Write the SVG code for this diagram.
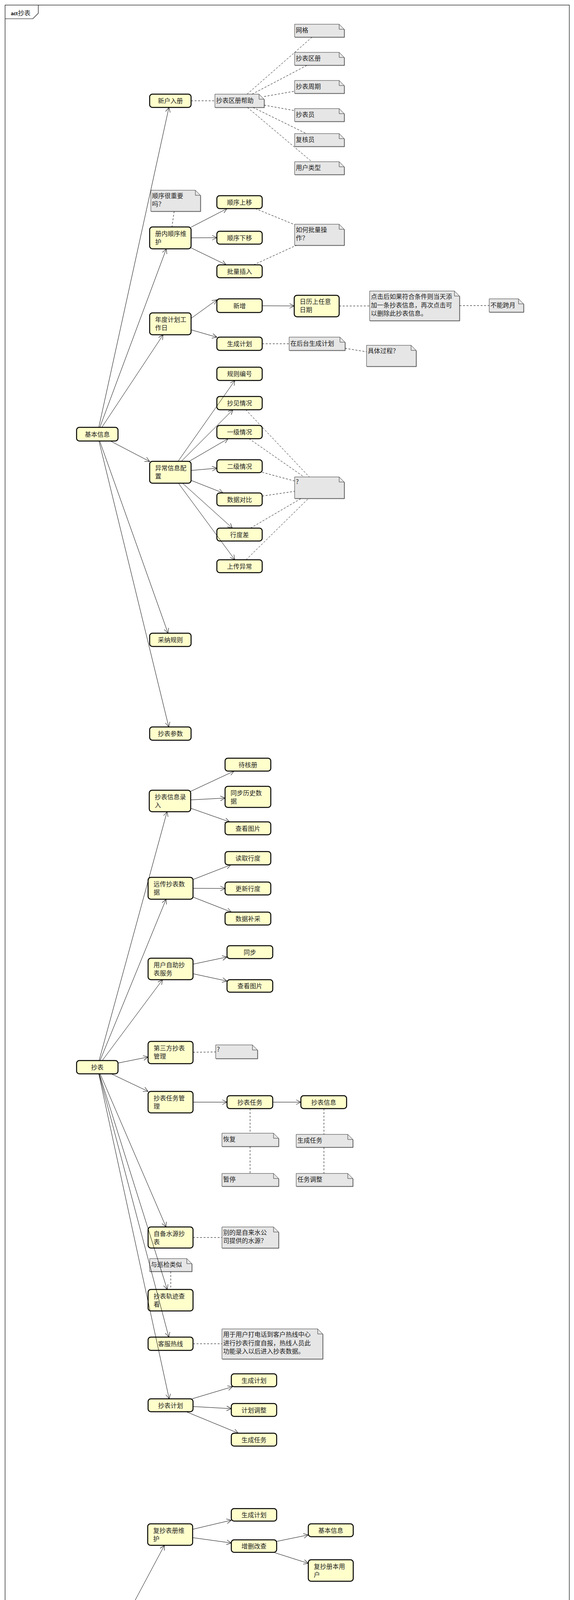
<svg xmlns="http://www.w3.org/2000/svg" width="1469" height="4809" viewBox="0 0 1469 4809">
<style>
.n rect{fill:#ffffcc;stroke:#000;stroke-width:2.5}
.t{font-family:"Noto Sans CJK SC","Noto Sans",sans-serif;font-size:16px;fill:#222}
.c{text-anchor:middle}
.nt path{fill:#e6e6e6;stroke:#333;stroke-width:1}
.nt path.b{filter:url(#sh)}
.nt path.f{fill:none}
.a{fill:none;stroke:#000;stroke-width:1;marker-end:url(#arr)}
.d{fill:none;stroke:#000;stroke-width:1;stroke-dasharray:5 4}
</style>
<defs>
<marker id="arr" markerUnits="userSpaceOnUse" markerWidth="16" markerHeight="14" viewBox="-14 -7 16 14" refX="0" refY="0" orient="auto">
<path d="M-12,-6 L0,0 L-12,6" fill="none" stroke="#000" stroke-width="1"/>
</marker>
<filter id="sh" x="-5%" y="-5%" width="115%" height="130%">
<feDropShadow dx="1" dy="1" stdDeviation="0.3" flood-color="#666" flood-opacity="0.8"/>
</filter>
</defs>
<rect x="0" y="0" width="1469" height="4809" fill="#fff"/>
<g id="frame">
<rect x="13" y="13" width="1444" height="4783" fill="none" stroke="#000" stroke-width="1.2"/>
<path d="M13,48 H84 L98,34 V13" fill="none" stroke="#000" stroke-width="1.2"/>
<text x="28" y="39" font-family="Liberation Sans,Arial,sans-serif" font-size="12" font-weight="bold" fill="#000">act</text>
<text x="46" y="39" class="t" font-size="16">抄表</text>
</g>

<!-- Section 1 nodes -->
<g id="n_jbxx" class="n"><rect x="196" y="1094" width="106" height="35" rx="7"/><text class="t c" x="249" y="1117.5">基本信息</text></g>
<g id="n_xhrc" class="n"><rect x="383" y="241" width="106" height="34" rx="7"/><text class="t c" x="436" y="264">新户入册</text></g>
<g id="n_cnsx" class="n"><rect x="383" y="581" width="106" height="56" rx="7"/><text class="t" x="397" y="604">册内顺序维</text><text class="t" x="397" y="625">护</text></g>
<g id="n_ndjh" class="n"><rect x="383" y="801" width="106" height="56" rx="7"/><text class="t" x="397" y="824">年度计划工</text><text class="t" x="397" y="845">作日</text></g>
<g id="n_ycxx" class="n"><rect x="383" y="1181" width="106" height="56" rx="7"/><text class="t" x="397" y="1204">异常信息配</text><text class="t" x="397" y="1225">置</text></g>
<g id="n_cngz" class="n"><rect x="383" y="1621" width="106" height="34" rx="7"/><text class="t c" x="436" y="1644">采纳规则</text></g>
<g id="n_cbcs" class="n"><rect x="383" y="1861" width="106" height="34" rx="7"/><text class="t c" x="436" y="1884">抄表参数</text></g>
<g id="n_sxsy" class="n"><rect x="555" y="501" width="116" height="33" rx="7"/><text class="t c" x="613" y="523.5">顺序上移</text></g>
<g id="n_sxxy" class="n"><rect x="555" y="592" width="116" height="33" rx="7"/><text class="t c" x="613" y="614.5">顺序下移</text></g>
<g id="n_plcr" class="n"><rect x="555" y="678" width="116" height="33" rx="7"/><text class="t c" x="613" y="700.5">批量插入</text></g>
<g id="n_xz" class="n"><rect x="555" y="765" width="116" height="35" rx="7"/><text class="t c" x="613" y="788.5">新增</text></g>
<g id="n_rl" class="n"><rect x="753" y="756" width="115" height="55" rx="7"/><text class="t" x="767" y="778">日历上任意</text><text class="t" x="767" y="799">日期</text></g>
<g id="n_scjh1" class="n"><rect x="555" y="863" width="116" height="34" rx="7"/><text class="t c" x="613" y="886">生成计划</text></g>
<g id="n_gzbh" class="n"><rect x="555" y="940" width="116" height="34" rx="7"/><text class="t c" x="613" y="963">规则编号</text></g>
<g id="n_cjqk" class="n"><rect x="555" y="1015" width="116" height="34" rx="7"/><text class="t c" x="613" y="1038">抄见情况</text></g>
<g id="n_yjqk" class="n"><rect x="555" y="1089" width="116" height="34" rx="7"/><text class="t c" x="613" y="1112">一级情况</text></g>
<g id="n_ejqk" class="n"><rect x="555" y="1177" width="116" height="33" rx="7"/><text class="t c" x="613" y="1199.5">二级情况</text></g>
<g id="n_sjdb" class="n"><rect x="555" y="1262" width="116" height="33" rx="7"/><text class="t c" x="613" y="1284.5">数据对比</text></g>
<g id="n_xdc" class="n"><rect x="555" y="1352" width="116" height="33" rx="7"/><text class="t c" x="613" y="1374.5">行度差</text></g>
<g id="n_scyc" class="n"><rect x="555" y="1433" width="116" height="33" rx="7"/><text class="t c" x="613" y="1455.5">上传异常</text></g>

<!-- Section 1 notes -->
<g id="t_bz" class="nt"><path class="b" d="M550,241 H663 L676,254 V275 H550 Z"/><path class="f" d="M663,241 V254 H676"/><text class="t" x="553" y="263">抄表区册帮助</text></g>
<g id="t_wg" class="nt"><path class="b" d="M754,62 H868 L881,75 V95 H754 Z"/><path class="f" d="M868,62 V75 H881"/><text class="t" x="757" y="83">网格</text></g>
<g id="t_cbqc" class="nt"><path class="b" d="M754,134 H868 L881,147 V167 H754 Z"/><path class="f" d="M868,134 V147 H881"/><text class="t" x="757" y="155">抄表区册</text></g>
<g id="t_cbzq" class="nt"><path class="b" d="M754,206 H868 L881,219 V239 H754 Z"/><path class="f" d="M868,206 V219 H881"/><text class="t" x="757" y="227">抄表周期</text></g>
<g id="t_cby" class="nt"><path class="b" d="M754,278 H868 L881,291 V311 H754 Z"/><path class="f" d="M868,278 V291 H881"/><text class="t" x="757" y="299">抄表员</text></g>
<g id="t_fhy" class="nt"><path class="b" d="M754,342 H868 L881,355 V375 H754 Z"/><path class="f" d="M868,342 V355 H881"/><text class="t" x="757" y="363">复核员</text></g>
<g id="t_yhlx" class="nt"><path class="b" d="M754,414 H868 L881,427 V447 H754 Z"/><path class="f" d="M868,414 V427 H881"/><text class="t" x="757" y="435">用户类型</text></g>
<g id="t_sxzy" class="nt"><path class="b" d="M386,487 H500 L513,500 V541 H386 Z"/><path class="f" d="M500,487 V500 H513"/><text class="t" x="389" y="507">顺序很重要</text><text class="t" x="389" y="528">吗？</text></g>
<g id="t_plcz" class="nt"><path class="b" d="M754,574 H868 L881,587 V628 H754 Z"/><path class="f" d="M868,574 V587 H881"/><text class="t" x="757" y="594">如何批量操</text><text class="t" x="757" y="615">作？</text></g>
<g id="t_djh" class="nt"><path class="b" d="M946,745 H1163 L1176,758 V821 H946 Z"/><path class="f" d="M1163,745 V758 H1176"/><text class="t" x="949" y="765">点击后如果符合条件则当天添</text><text class="t" x="949" y="786.5">加一条抄表信息，再次点击可</text><text class="t" x="949" y="808">以删除此抄表信息。</text></g>
<g id="t_bnky" class="nt"><path class="b" d="M1252,765 H1327 L1340,778 V799 H1252 Z"/><path class="f" d="M1327,765 V778 H1340"/><text class="t" x="1255" y="787">不能跨月</text></g>
<g id="t_zht" class="nt"><path class="b" d="M740,863 H870 L883,876 V897 H740 Z"/><path class="f" d="M870,863 V876 H883"/><text class="t" x="743" y="885">在后台生成计划</text></g>
<g id="t_jtgc" class="nt"><path class="b" d="M938,884 H1052 L1065,897 V938 H938 Z"/><path class="f" d="M1052,884 V897 H1065"/><text class="t" x="941" y="904">具体过程？</text></g>
<g id="t_q1" class="nt"><path class="b" d="M754,1221 H868 L881,1234 V1276 H754 Z"/><path class="f" d="M868,1221 V1234 H881"/><text class="t" x="757" y="1239" font-size="13">?</text></g>

<!-- Section 2 nodes -->
<g id="n_cb" class="n"><rect x="196" y="2715" width="106" height="34" rx="7"/><text class="t c" x="249" y="2738">抄表</text></g>
<g id="n_cbxxlr" class="n"><rect x="382" y="2023" width="106" height="55" rx="7"/><text class="t" x="396" y="2046">抄表信息录</text><text class="t" x="396" y="2067">入</text></g>
<g id="n_yccb" class="n"><rect x="379" y="2246" width="115" height="56" rx="7"/><text class="t" x="393" y="2269">远传抄表数</text><text class="t" x="393" y="2290">据</text></g>
<g id="n_yhzz" class="n"><rect x="379" y="2453" width="115" height="55" rx="7"/><text class="t" x="393" y="2476">用户自助抄</text><text class="t" x="393" y="2497">表服务</text></g>
<g id="n_dsf" class="n"><rect x="379" y="2666" width="115" height="57" rx="7"/><text class="t" x="393" y="2689">第三方抄表</text><text class="t" x="393" y="2710">管理</text></g>
<g id="n_cbrwgl" class="n"><rect x="379" y="2794" width="115" height="55" rx="7"/><text class="t" x="393" y="2817">抄表任务管</text><text class="t" x="393" y="2838">理</text></g>
<g id="n_zbsy" class="n"><rect x="379" y="3141" width="115" height="54" rx="7"/><text class="t" x="393" y="3164">自备水源抄</text><text class="t" x="393" y="3185">表</text></g>
<g id="n_cbgj" class="n"><rect x="379" y="3301" width="115" height="55" rx="7"/><text class="t" x="393" y="3324">抄表轨迹查</text><text class="t" x="393" y="3345">看</text></g>
<g id="n_kfrx" class="n"><rect x="379" y="3423" width="115" height="34" rx="7"/><text class="t c" x="436.5" y="3446">客服热线</text></g>
<g id="n_cbjh" class="n"><rect x="379" y="3581" width="115" height="33" rx="7"/><text class="t c" x="436.5" y="3603.5">抄表计划</text></g>
<g id="n_dhc" class="n"><rect x="576" y="1941" width="117" height="33" rx="7"/><text class="t c" x="634.5" y="1963.5">待核册</text></g>
<g id="n_tbls" class="n"><rect x="576" y="2013" width="117" height="54" rx="7"/><text class="t" x="590" y="2036">同步历史数</text><text class="t" x="590" y="2057">据</text></g>
<g id="n_cktp1" class="n"><rect x="576" y="2104" width="117" height="33" rx="7"/><text class="t c" x="634.5" y="2126.5">查看图片</text></g>
<g id="n_dqxd" class="n"><rect x="576" y="2180" width="117" height="34" rx="7"/><text class="t c" x="634.5" y="2203">读取行度</text></g>
<g id="n_gxxd" class="n"><rect x="576" y="2258" width="117" height="33" rx="7"/><text class="t c" x="634.5" y="2280.5">更新行度</text></g>
<g id="n_sjbc" class="n"><rect x="576" y="2335" width="117" height="33" rx="7"/><text class="t c" x="634.5" y="2357.5">数据补采</text></g>
<g id="n_tb" class="n"><rect x="581" y="2421" width="117" height="33" rx="7"/><text class="t c" x="639.5" y="2443.5">同步</text></g>
<g id="n_cktp2" class="n"><rect x="581" y="2508" width="117" height="32" rx="7"/><text class="t c" x="639.5" y="2530">查看图片</text></g>
<g id="n_cbrw" class="n"><rect x="581" y="2805" width="117" height="33" rx="7"/><text class="t c" x="639.5" y="2827.5">抄表任务</text></g>
<g id="n_cbxx" class="n"><rect x="770" y="2805" width="117" height="33" rx="7"/><text class="t c" x="828.5" y="2827.5">抄表信息</text></g>
<g id="n_scjh2" class="n"><rect x="592" y="3517" width="116" height="33" rx="7"/><text class="t c" x="650" y="3539.5">生成计划</text></g>
<g id="n_jhtz" class="n"><rect x="592" y="3593" width="116" height="33" rx="7"/><text class="t c" x="650" y="3615.5">计划调整</text></g>
<g id="n_scrw" class="n"><rect x="592" y="3669" width="116" height="33" rx="7"/><text class="t c" x="650" y="3691.5">生成任务</text></g>

<!-- Section 2 notes -->
<g id="t_q2" class="nt"><path class="b" d="M552,2675 H646 L659,2688 V2710 H552 Z"/><path class="f" d="M646,2675 V2688 H659"/><text class="t" x="555" y="2692" font-size="13">?</text></g>
<g id="t_hf" class="nt"><path class="b" d="M568,2901 H700 L713,2914 V2935 H568 Z"/><path class="f" d="M700,2901 V2914 H713"/><text class="t" x="571" y="2922">恢复</text></g>
<g id="t_scrw" class="nt"><path class="b" d="M758,2904 H890 L903,2917 V2937 H758 Z"/><path class="f" d="M890,2904 V2917 H903"/><text class="t" x="761" y="2925">生成任务</text></g>
<g id="t_zt" class="nt"><path class="b" d="M568,3004 H700 L713,3017 V3037 H568 Z"/><path class="f" d="M700,3004 V3017 H713"/><text class="t" x="571" y="3025">暂停</text></g>
<g id="t_rwtz" class="nt"><path class="b" d="M758,3004 H890 L903,3017 V3037 H758 Z"/><path class="f" d="M890,3004 V3017 H903"/><text class="t" x="761" y="3025">任务调整</text></g>
<g id="t_zls" class="nt"><path class="b" d="M568,3141 H700 L713,3154 V3195 H568 Z"/><path class="f" d="M700,3141 V3154 H713"/><text class="t" x="571" y="3161">别的是自来水公</text><text class="t" x="571" y="3182">司提供的水源？</text></g>
<g id="t_xj" class="nt"><path class="b" d="M383,3222 H478 L491,3235 V3255 H383 Z"/><path class="f" d="M478,3222 V3235 H491"/><text class="t" x="386" y="3243">与巡检类似</text></g>
<g id="t_kf" class="nt"><path class="b" d="M568,3402 H813 L826,3415 V3479 H568 Z"/><path class="f" d="M813,3402 V3415 H826"/><text class="t" x="571" y="3422">用于用户打电话到客户热线中心</text><text class="t" x="571" y="3443.5">进行抄表行度自报，热线人员此</text><text class="t" x="571" y="3465">功能录入以后进入抄表数据。</text></g>

<!-- Section 3 nodes -->
<g id="n_fc" class="n"><rect x="196" y="4261" width="106" height="34" rx="7"/><text class="t c" x="249" y="4284">复抄</text></g>
<g id="n_fcbc" class="n"><rect x="378" y="3901" width="115" height="55" rx="7"/><text class="t" x="392" y="3924">复抄表册维</text><text class="t" x="392" y="3945">护</text></g>
<g id="n_fcjhgl" class="n"><rect x="379" y="4157" width="115" height="54" rx="7"/><text class="t" x="393" y="4180">复抄计划管</text><text class="t" x="393" y="4201">理</text></g>
<g id="n_lsfc" class="n"><rect x="379" y="4421" width="115" height="55" rx="7"/><text class="t" x="393" y="4444">临时复抄计</text><text class="t" x="393" y="4465">划管理</text></g>
<g id="n_fcxxlr" class="n"><rect x="379" y="4621" width="115" height="55" rx="7"/><text class="t" x="393" y="4644">复抄信息录</text><text class="t" x="393" y="4665">入</text></g>
<g id="n_scjh3" class="n"><rect x="592" y="3862" width="116" height="32" rx="7"/><text class="t c" x="650" y="3884">生成计划</text></g>
<g id="n_zsgc" class="n"><rect x="592" y="3942" width="116" height="32" rx="7"/><text class="t c" x="650" y="3964">增删改查</text></g>
<g id="n_jbxx2" class="n"><rect x="789" y="3901" width="115" height="33" rx="7"/><text class="t c" x="846.5" y="3923.5">基本信息</text></g>
<g id="n_fccb" class="n"><rect x="789" y="3993" width="115" height="55" rx="7"/><text class="t" x="803" y="4016">复抄册本用</text><text class="t" x="803" y="4037">户</text></g>
<g id="n_fccbjh" class="n"><rect x="592" y="4101" width="116" height="54" rx="7"/><text class="t" x="606" y="4124">复抄抄表计</text><text class="t" x="606" y="4145">划</text></g>
<g id="n_fccbxx" class="n"><rect x="592" y="4229" width="116" height="55" rx="7"/><text class="t" x="606" y="4252">复抄抄表信</text><text class="t" x="606" y="4273">息</text></g>
<g id="n_jhxx" class="n"><rect x="592" y="4381" width="116" height="33" rx="7"/><text class="t c" x="650" y="4403.5">计划信息</text></g>
<g id="n_fcyh" class="n"><rect x="592" y="4473" width="116" height="33" rx="7"/><text class="t c" x="650" y="4495.5">复抄用户</text></g>

<g id="connectors">
<!-- section 1 arrows -->
<path class="a" d="M252.8,1094 L432.3,275"/>
<path class="a" d="M255.5,1094 L425.6,637"/>
<path class="a" d="M260.6,1094 L417.5,857"/>
<path class="a" d="M282.6,1129 L383,1181.4"/>
<path class="a" d="M255.2,1129 L430,1621"/>
<path class="a" d="M253.3,1129 L431.9,1861"/>
<path class="a" d="M489,581.6 L581.1,534"/>
<path class="a" d="M489,608.8 L555,608.6"/>
<path class="a" d="M489,634.6 L578.8,678"/>
<path class="a" d="M489,815.1 L555,767.3"/>
<path class="a" d="M489,844.3 L555,863.3"/>
<path class="a" d="M671,782.8 L753,783.2"/>
<path class="a" d="M455.7,1181 L601.1,974"/>
<path class="a" d="M464,1181 L596,1049"/>
<path class="a" d="M484.1,1181 L583.8,1123"/>
<path class="a" d="M489,1204.4 L555,1198.6"/>
<path class="a" d="M489,1229.8 L571,1262"/>
<path class="a" d="M467.1,1237 L594.7,1352"/>
<path class="a" d="M456.6,1237 L600.9,1433"/>
<!-- section 1 dashed -->
<path class="d" d="M489,258 L550,258"/>
<path class="d" d="M632.4,241 L798.7,95"/>
<path class="d" d="M645.3,241 L786.1,167"/>
<path class="d" d="M676,247.1 L754,233.5"/>
<path class="d" d="M676,269.2 L754,283.2"/>
<path class="d" d="M647.6,275 L783.9,342"/>
<path class="d" d="M633.2,275 L797.9,414"/>
<path class="d" d="M445.7,541 L440,581"/>
<path class="d" d="M653.4,534 L754,575.1"/>
<path class="d" d="M649.1,678 L758.4,628"/>
<path class="d" d="M868,783.4 L946,783.2"/>
<path class="d" d="M1176,782.5 L1252,782.2"/>
<path class="d" d="M671,880 L740,880"/>
<path class="d" d="M883,891.7 L938,900.6"/>
<path class="d" d="M629.1,1049 L791.5,1221"/>
<path class="d" d="M637.4,1123 L778,1221"/>
<path class="d" d="M671,1209.1 L754,1231.4"/>
<path class="d" d="M671,1270 L754,1257.8"/>
<path class="d" d="M641.1,1352 L770.7,1276"/>
<path class="d" d="M629.8,1433 L789.5,1276"/>
<!-- section 2 arrows -->
<path class="a" d="M253.6,2715 L427.5,2078"/>
<path class="a" d="M256,2715 L425,2302"/>
<path class="a" d="M261.7,2715 L416,2508"/>
<path class="a" d="M302,2721.4 L379,2706"/>
<path class="a" d="M284.6,2749 L379,2794"/>
<path class="a" d="M256.3,2749 L424.9,3141"/>
<path class="a" d="M254.3,2749 L427.9,3301"/>
<path class="a" d="M253.5,2749 L432,3423"/>
<path class="a" d="M252.7,2749 L432.9,3581"/>
<path class="a" d="M488,2025.8 L599.1,1974"/>
<path class="a" d="M488,2047.7 L576,2043.1"/>
<path class="a" d="M488,2069.1 L587.5,2104"/>
<path class="a" d="M494,2251.6 L590.8,2214"/>
<path class="a" d="M494,2274.1 L576,2274.4"/>
<path class="a" d="M494,2296.5 L592.3,2335"/>
<path class="a" d="M494,2468.3 L581,2449.9"/>
<path class="a" d="M494,2492.8 L581,2511.5"/>
<path class="a" d="M494,2821.5 L581,2821.5"/>
<path class="a" d="M698,2821.5 L770,2821.5"/>
<path class="a" d="M491.5,3581 L595,3550"/>
<path class="a" d="M494,3600.7 L592,3606.2"/>
<path class="a" d="M476.5,3614 L610,3669"/>
<!-- section 2 dashed -->
<path class="d" d="M494,2693.8 L552,2693"/>
<path class="d" d="M640,2838 L640,2901"/>
<path class="d" d="M640,2935 L640,3004"/>
<path class="d" d="M829,2838 L829,2904"/>
<path class="d" d="M829,2937 L829,3004"/>
<path class="d" d="M494,3168 L568,3168"/>
<path class="d" d="M437,3255 L437,3301"/>
<path class="d" d="M494,3440 L568,3440"/>
<!-- section 3 arrows -->
<path class="a" d="M258.1,4261 L420.8,3956"/>
<path class="a" d="M282.9,4261 L382.3,4211"/>
<path class="a" d="M267.7,4295 L406.3,4421"/>
<path class="a" d="M257.6,4295 L422.6,4621"/>
<path class="a" d="M493,3915 L592,3891.7"/>
<path class="a" d="M493,3936.4 L592,3950"/>
<path class="a" d="M708,3946 L789,3929.4"/>
<path class="a" d="M700.3,3974 L789,4002.2"/>
<path class="a" d="M494,4168.9 L592,4143.2"/>
<path class="a" d="M494,4203.5 L592,4236.8"/>
<path class="a" d="M494,4434.8 L592,4411.4"/>
<path class="a" d="M494,4459.5 L592,4478.4"/>
</g>
</svg>
